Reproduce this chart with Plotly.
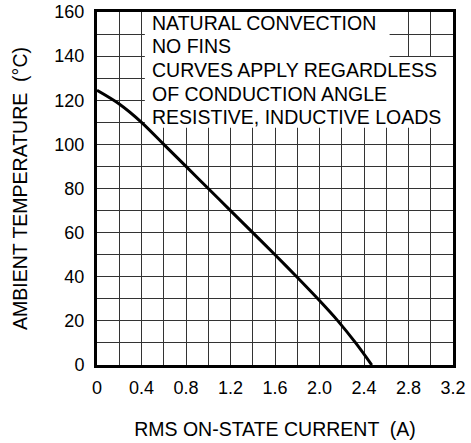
import plotly.graph_objects as go

# Data
current_a = [0, 0.2, 0.4, 0.6, 0.8, 1.0, 1.2, 1.4, 1.6, 1.795, 1.985, 2.165, 2.325, 2.47]
ambient_c = [124.5, 118.3, 110, 100, 90, 80, 70, 60, 50, 40, 30, 20, 10, 0]

x_tick_vals = [0, 0.4, 0.8, 1.2, 1.6, 2.0, 2.4, 2.8, 3.2]
x_tick_text = ["0", "0.4", "0.8", "1.2", "1.6", "2.0", "2.4", "2.8", "3.2"]
y_tick_vals = [0, 20, 40, 60, 80, 100, 120, 140, 160]
y_tick_text = [str(v) for v in y_tick_vals]

notes = ["NATURAL CONVECTION", "NO FINS", "CURVES APPLY REGARDLESS",
         "OF CONDUCTION ANGLE", "RESISTIVE, INDUCTIVE LOADS"]
note_y = [154.8, 144.5, 133.7, 123.0, 112.6]

FONT = "Liberation Sans, Arial, sans-serif"

fig = go.Figure()
fig.add_trace(go.Scatter(
    x=current_a, y=ambient_c, mode="lines",
    line=dict(color="black", width=3, shape="spline", smoothing=0.9),
    hoverinfo="skip", showlegend=False,
))

grid_color = "#333333"
fig.update_xaxes(
    range=[0, 3.2], tickvals=x_tick_vals, ticktext=x_tick_text,
    showgrid=True, gridcolor=grid_color, gridwidth=1.2,
    minor=dict(dtick=0.2, tick0=0, showgrid=True, gridcolor=grid_color, gridwidth=1.2),
    showline=True, linecolor="black", linewidth=3, mirror=True,
    ticks="", ticklabelstandoff=4, zeroline=False,
    tickfont=dict(family=FONT, size=18, color="black"),
    title=dict(text="RMS ON-STATE CURRENT  (A)", font=dict(family=FONT, size=19.5, color="black"), standoff=26),
)
fig.update_yaxes(
    range=[0, 160], tickvals=y_tick_vals, ticktext=y_tick_text,
    showgrid=True, gridcolor=grid_color, gridwidth=1.2,
    minor=dict(dtick=10, tick0=0, showgrid=True, gridcolor=grid_color, gridwidth=1.2),
    showline=True, linecolor="black", linewidth=3, mirror=True,
    ticks="", ticklabelstandoff=6, zeroline=False,
    tickfont=dict(family=FONT, size=18, color="black"),
    title=dict(text="AMBIENT TEMPERATURE  (°C)", font=dict(family=FONT, size=19.5, color="black"), standoff=22),
)

# White panels behind the notes
fig.add_shape(type="rect", xref="x", yref="y", x0=0.43, x1=2.63, y0=139.6, y1=160,
              fillcolor="white", line=dict(width=0), layer="between")
fig.add_shape(type="rect", xref="x", yref="y", x0=0.43, x1=3.2, y0=107.5, y1=139.6,
              fillcolor="white", line=dict(width=0), layer="between")

for txt, yv in zip(notes, note_y):
    fig.add_annotation(x=0.476, y=yv, xref="x", yref="y", text=txt, showarrow=False,
                       xanchor="left", yanchor="middle",
                       font=dict(family=FONT, size=19.5, color="black"))

fig.update_layout(
    width=471, height=443,
    margin=dict(l=97, r=18, t=12, b=78, autoexpand=False),
    paper_bgcolor="white", plot_bgcolor="white",
    font=dict(family=FONT, color="black"),
)

fig.write_html("out.html", config={"displayModeBar": False},
               post_script="document.body.style.margin='0';document.body.style.overflow='hidden';")
